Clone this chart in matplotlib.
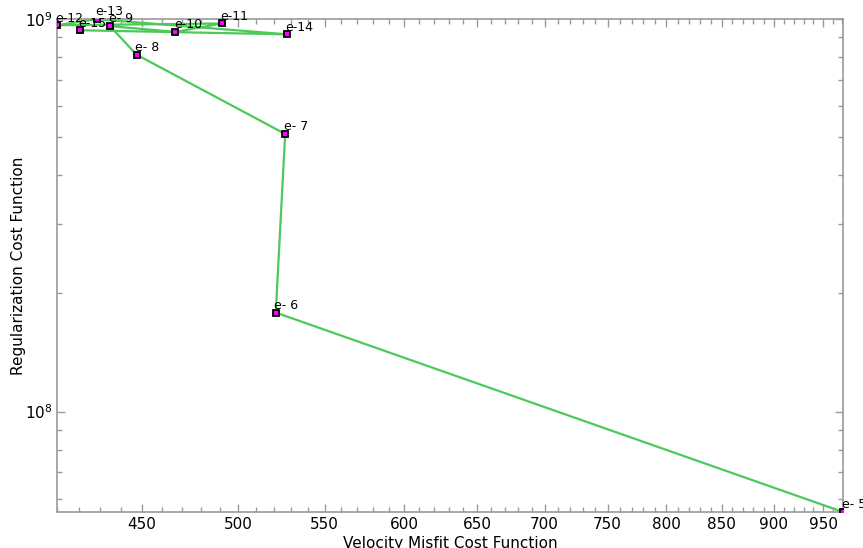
import matplotlib
matplotlib.use("Agg")
import matplotlib.pyplot as plt
from matplotlib.ticker import FixedLocator, FuncFormatter, NullFormatter, LogLocator

# L-curve points, one per regularization weight (in iteration order)
labels = ["e- 5", "e- 6", "e- 7", "e- 8", "e- 9", "e-10", "e-11",
          "e-12", "e-13", "e-14", "e-15"]
misfit = [971.0, 521.2, 526.6, 447.4, 434.5, 466.9, 491.2,
          410.0, 428.4, 527.5, 420.5]
regularization = [5.55e7, 1.788e8, 5.10e8, 8.12e8, 9.60e8, 9.28e8, 9.75e8,
                  9.65e8, 1.0e9, 9.15e8, 9.37e8]

x_major = list(range(450, 1000, 50))
x_minor = list(range(410, 980, 10))

AXIS_GRAY = "#9a9a9a"

fig = plt.figure(figsize=(8.63, 5.48), dpi=100)
ax = fig.add_axes([57 / 863, 36 / 548, 786 / 863, 493 / 548])

ax.plot(misfit, regularization, color="#4dc95a", linewidth=1.6, zorder=2)
ax.plot(misfit, regularization, linestyle="none", marker="s", markersize=4.5,
        markerfacecolor="#ff00ff", markeredgecolor="black", markeredgewidth=1.3,
        zorder=3)
for lab, xv, yv in zip(labels, misfit, regularization):
    ax.annotate(lab, (xv, yv), xytext=(-1, 0.5), textcoords="offset points",
                fontsize=9, ha="left", va="bottom", zorder=4)

ax.set_xscale("log")
ax.set_yscale("log")
ax.set_xlim(min(misfit), max(misfit))
ax.set_ylim(min(regularization), 1.001e9)

ax.xaxis.set_major_locator(FixedLocator(x_major))
ax.xaxis.set_minor_locator(FixedLocator(x_minor))
ax.xaxis.set_major_formatter(FuncFormatter(lambda v, _: f"{v:.0f}"))
ax.xaxis.set_minor_formatter(NullFormatter())
ax.yaxis.set_minor_locator(LogLocator(base=10, subs=range(2, 10)))
ax.yaxis.set_minor_formatter(NullFormatter())

ax.tick_params(which="both", direction="in", top=True, right=True,
               color=AXIS_GRAY, labelsize=11)
ax.tick_params(which="major", length=6, width=1)
ax.tick_params(which="minor", length=3.5, width=1)
for sp in ax.spines.values():
    sp.set_color(AXIS_GRAY)
    sp.set_linewidth(1.2)

ax.set_xlabel("Velocity Misfit Cost Function", fontsize=11, labelpad=3)
ax.set_ylabel("Regularization Cost Function", fontsize=11)
ax.yaxis.set_label_coords(-0.040, 0.5)

fig.savefig("out.png", dpi=100)
